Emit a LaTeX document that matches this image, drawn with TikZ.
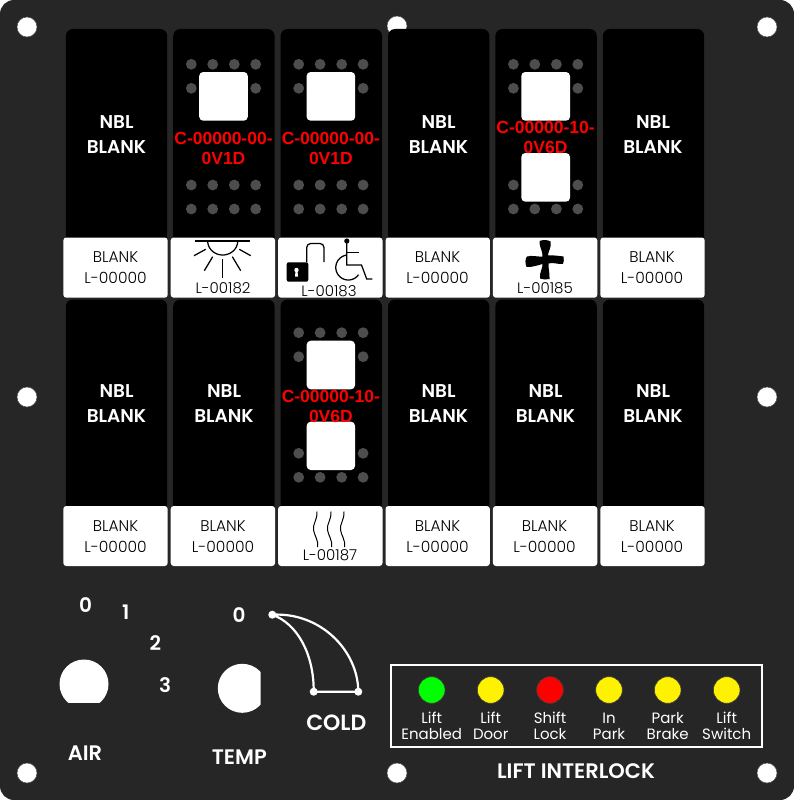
\documentclass[tikz,border=0pt]{standalone}
\usepackage{fontspec}
\setmainfont{Liberation Sans}
\newfontfamily\gothb{Poppins SemiBold}
\newfontfamily\gothm{Poppins Medium}
\newfontfamily\gothr{Poppins}
\newfontfamily\gothl{Poppins Light}
\definecolor{panelc}{HTML}{262626}
\definecolor{dotc}{HTML}{4D4D4D}
\tikzset{
  x=1pt,y=-1pt,
  hole/.style={fill=white,draw=black!70,line width=0.5pt},
  sw/.style={fill=black,rounded corners=7pt},
  lab/.style={fill=white,rounded corners=3pt},
  sq/.style={fill=white,rounded corners=4pt},
  nbl/.style={font=\gothb\fontsize{18.5}{25}\selectfont,text=white,inner sep=0pt,align=center},
  lb/.style={font=\gothl\fontsize{15.5}{21}\selectfont,text=black,inner sep=0pt,align=center},
  pn/.style={font=\gothl\fontsize{15}{15}\selectfont,text=black,inner sep=0pt},
  red/.style={font=\bfseries\fontsize{17.5}{20}\selectfont,text=red,inner sep=0pt,align=center},
  wt/.style={text=white,inner sep=0pt,align=center},
  big/.style={wt,font=\gothb\fontsize{21}{20}\selectfont},
  num/.style={wt,font=\gothb\fontsize{20}{20}\selectfont},
  ico/.style={line width=1.25pt,draw=black},
  led/.style={draw=black!75,line width=0.6pt},
}
\begin{document}
\begin{tikzpicture}
\useasboundingbox (0,0) rectangle (794,800);
\fill[white] (0,0) rectangle (794,800);
\fill[panelc,rounded corners=14pt] (0,0) rectangle (794,800);
% mounting holes
\foreach \n/\hx/\hy in {a/27/27,b/397/26,c/767/27,d/27/397,e/767/397,f/27/773,g/397/773,h/767/773}
  \draw[hole] (\hx,\hy) circle[radius=10];
% switch bodies and label plates
\foreach \c/\cx in {1/116.5,2/223.9,3/331.3,4/438.7,5/546.1,6/653.5}{
  \fill[sw] (\cx-50.7,29) rectangle (\cx+50.7,244);
  \fill[sw] (\cx-50.7,299.5) rectangle (\cx+50.7,514);
  \fill[lab] (\cx-53.2,237.5) rectangle (\cx+51.2,297.7);
  \fill[lab] (\cx-53.2,506) rectangle (\cx+51.2,566);
}
% NBL blanks
\foreach \n/\cx in {a/116.5,d/438.5,f/653}{
  \node[nbl] (nbl\n) at (\cx,134.5) {NBL\\BLANK};
  \node[lb] (blk\n) at (\cx-1,267.5) {BLANK\\L-00000};
}
\foreach \n/\cx in {g/116.5,h/224,j/438.5,k/545.5,m/653}{
  \node[nbl] (nbl\n) at (\cx,403.5) {NBL\\BLANK};
  \node[lb] (blk\n) at (\cx-1,536.5) {BLANK\\L-00000};
}
% dots and squares, single-lens columns
\foreach \cx in {223.5,330.9}{
  \foreach \dx in {-32.2,-10.8,10.8,32.2}{
    \fill[dotc] (\cx+\dx,64.3) circle[radius=5.4];
    \fill[dotc] (\cx+\dx,185) circle[radius=5.4];
    \fill[dotc] (\cx+\dx,209) circle[radius=5.4];
  }
  \fill[dotc] (\cx-32.2,88.3) circle[radius=5.4];
  \fill[dotc] (\cx+32.2,88.3) circle[radius=5.4];
  \fill[sq] (\cx-24.3,72) rectangle (\cx+24.3,120.7);
  \node[red] at (\cx,148) {C-00000-00-\\0V1D};
}
% double-lens, top row
\foreach \dx in {-32.2,-10.8,10.8,32.2}{
  \fill[dotc] (545.6+\dx,64.3) circle[radius=5.4];
  \fill[dotc] (545.6+\dx,209) circle[radius=5.4];
}
\foreach \dx in {-32.2,32.2}{
  \fill[dotc] (545.6+\dx,88.3) circle[radius=5.4];
  \fill[dotc] (545.6+\dx,185) circle[radius=5.4];
}
\fill[sq] (521.3,72) rectangle (570,120.7);
\fill[sq] (521.3,153) rectangle (570,201.7);
\node[red] (sw5) at (545.6,137) {C-00000-10-\\0V6D};
% double-lens, bottom row
\foreach \dx in {-32.2,-10.8,10.8,32.2}{
  \fill[dotc] (330.9+\dx,332.7) circle[radius=5.4];
  \fill[dotc] (330.9+\dx,477.3) circle[radius=5.4];
}
\foreach \dx in {-32.2,32.2}{
  \fill[dotc] (330.9+\dx,356.7) circle[radius=5.4];
  \fill[dotc] (330.9+\dx,453.3) circle[radius=5.4];
}
\fill[sq] (306.7,340.7) rectangle (355,389.3);
\fill[sq] (306.7,421.7) rectangle (355,470);
\node[red] (sw9) at (330.9,406.2) {C-00000-10-\\0V6D};
% sun icon
\draw[ico] (195,241) -- (250,241);
\draw[ico] plot[domain=0:180,samples=30,smooth] ({222.7+15*cos(\x)},{241+14*sin(\x)});
\draw[ico] (194,255.7) -- (205.7,249.3);
\draw[ico] (204.3,270.7) -- (212.7,256.7);
\draw[ico] (222.7,259) -- (222.7,277.7);
\draw[ico] (232.3,256.7) -- (240.7,270.7);
\draw[ico] (239.3,249.3) -- (250.7,255.7);
\node[pn] (l182) at (223,288) {L-00182};
% lock and wheelchair icon
\fill[black,rounded corners=2pt] (286.7,262.3) rectangle (308.3,281.7);
\fill[white] (296.5,270) circle[radius=2.2];
\fill[white] (295.6,270) -- (297.4,270) -- (298,276.5) -- (295,276.5) -- cycle;
\draw[ico,rounded corners=4pt] (306.7,262) -- (306.7,243.5) -- (324,243.5) -- (324,262);
\fill[black] (346.8,241) circle[radius=2.6];
\draw[ico] (346.8,241) -- (346.8,265) -- (361.5,265) -- (366.7,279) -- (372.3,279);
\draw[ico] (346.8,252.7) -- (358.5,252.7);
\draw[ico] plot[domain=-98:-325,samples=40,smooth] ({348.3+12.5*cos(\x)},{267.5+12.5*sin(\x)});
\node[pn] (l183) at (329,291) {L-00183};
% fan icon
\fill[black] (539.5,241) .. controls (543,239.5) and (549,240) .. (550.5,241.5)
  .. controls (552,247) and (548,251) .. (548,255.5)
  .. controls (554,255) and (559,256) .. (563.5,256.5)
  .. controls (564,259) and (564,262) .. (563,264)
  .. controls (558,264.5) and (553,262) .. (548.5,263.5)
  .. controls (548,268) and (550,273) .. (549.5,279)
  .. controls (546,280) and (543,279.5) .. (540,278.5)
  .. controls (539,273) and (543,268) .. (542.5,264)
  .. controls (537,265.5) and (531,267.5) .. (526.5,267)
  .. controls (525,263) and (525,259) .. (527,256.5)
  .. controls (532,255) and (538,257) .. (542.5,256.5)
  .. controls (543,251) and (539,247) .. (539.5,241) -- cycle;
\node[pn] (l185) at (545,288) {L-00185};
% heat icon
\foreach \hx in {317,331,344}{
  \draw[line width=1pt,black] (\hx,511.5) .. controls (\hx+0.5,520) and (\hx-4.5,524) .. (\hx-3.5,530)
     .. controls (\hx-2.5,536) and (\hx+1.5,540) .. (\hx+0.7,547);
}
\node[pn] (l187) at (330,555) {L-00187};
% knobs
\begin{scope}
  \clip (50,650) rectangle (120,702);
  \fill[white] (84,684) circle[radius=24.5];
\end{scope}
\begin{scope}
  \clip (210,655) rectangle (260.7,720);
  \fill[white] (242.3,688.3) circle[radius=24.5];
\end{scope}
\node[num] (n0) at (85.7,605) {0};
\node[num] (n1) at (125.7,612.7) {1};
\node[num] (n2) at (155.3,642.7) {2};
\node[num] (n3) at (165,685) {3};
\node[num] (t0) at (239,615) {0};
\node[big] (air) at (85,752.7) {AIR};
\node[big] (temp) at (239.3,756.7) {TEMP};
\node[big,font=\gothb\fontsize{22}{20}\selectfont] (cold) at (336.3,722.7) {COLD};
% cold wedge
\coordinate (ca) at (272.3,614.7);
\coordinate (cb) at (313.7,691.7);
\coordinate (cc) at (358.3,691.7);
\draw[white,line width=2.2pt] (ca) .. controls (298,624) and (314,655) .. (cb) -- (cc)
   .. controls (358,650) and (320,612) .. (ca);
\foreach \p in {ca,cb,cc} \fill[white] (\p) circle[radius=4];
% interlock frame
\draw[white,line width=2.2pt] (390.7,665) rectangle (762.3,746.7);
\foreach \n/\lx/\lc/\txt in {a/431.7/green/{Lift\\Enabled},b/490.7/yellow/{Lift\\Door},c/550/red/{Shift\\Lock},d/609/yellow/{In\\Park},e/667.7/yellow/{Park\\Brake},f/726.7/yellow/{Lift\\Switch}}{
  \draw[led,fill=\lc] (\lx,690) circle[radius=13.3];
  \node[wt,font=\gothr\fontsize{15}{15.7}\selectfont] (t\n) at (\lx,726) {\txt};
}
\node[big] (li) at (576,771) {LIFT INTERLOCK};
\end{tikzpicture}
\end{document}
